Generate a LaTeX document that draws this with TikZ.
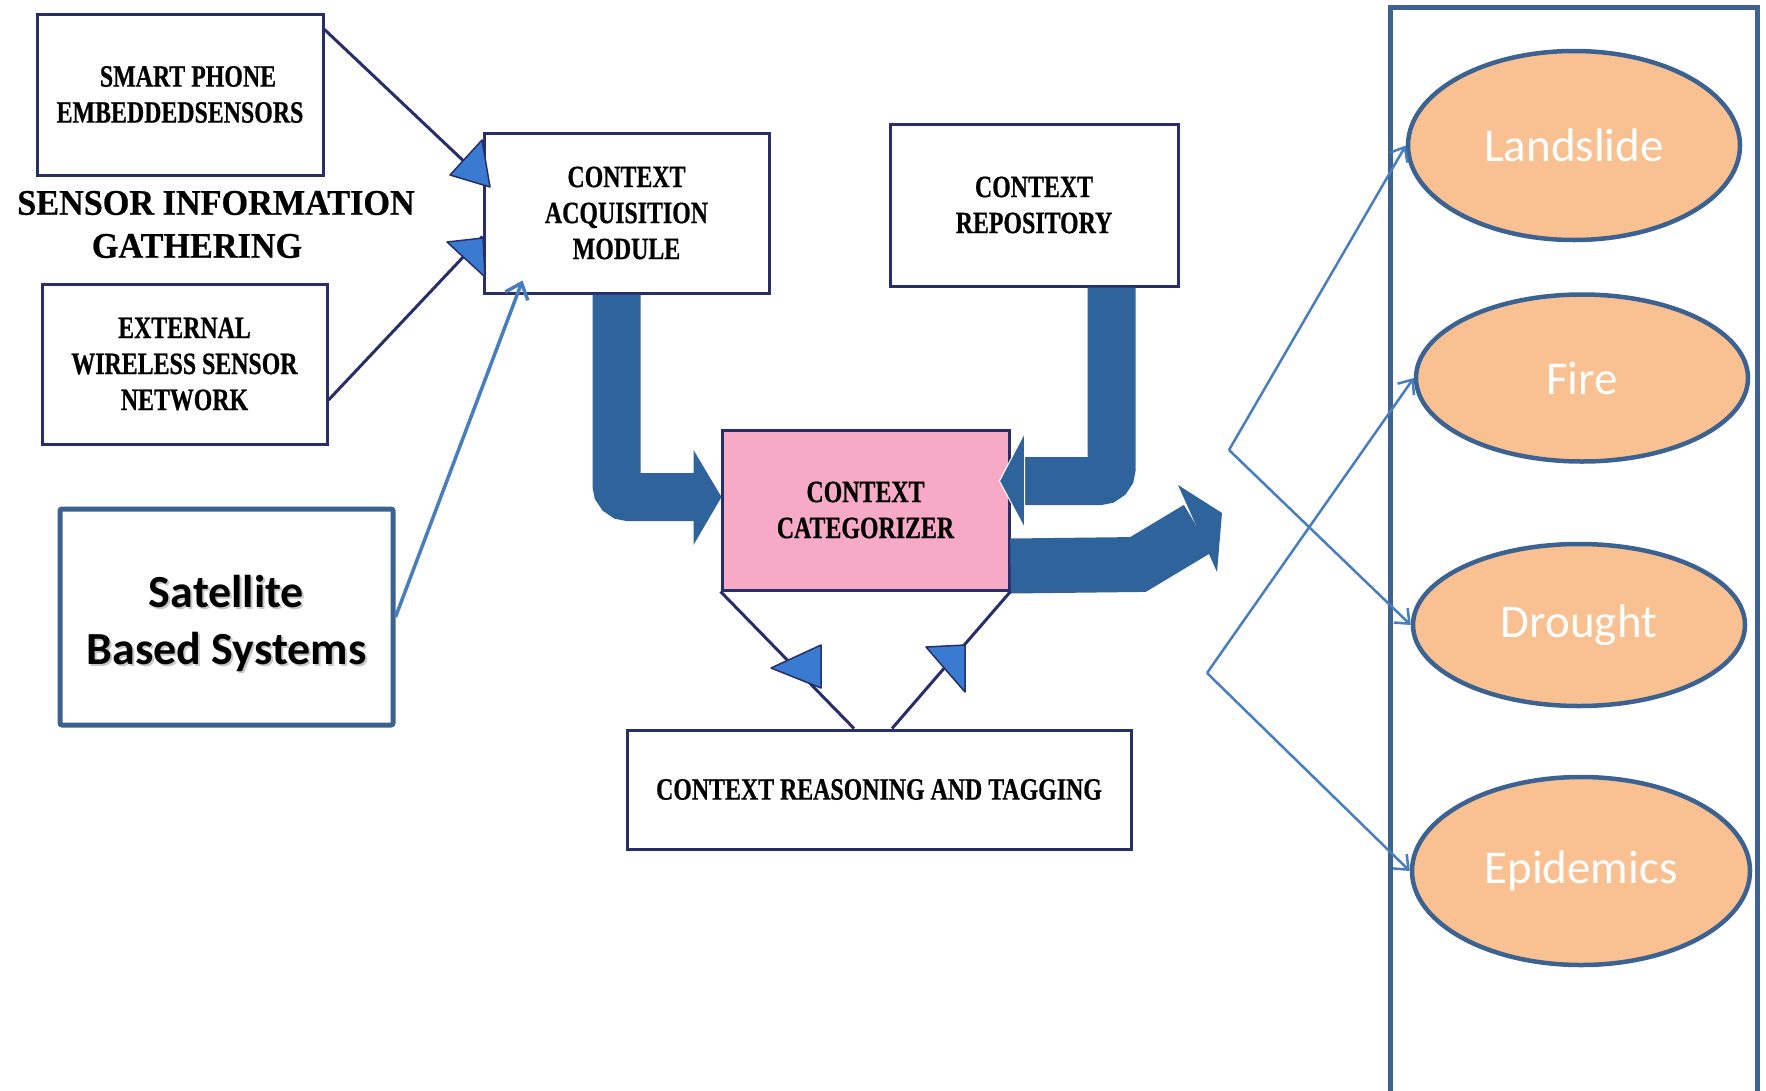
\documentclass[tikz,border=0pt]{standalone}
\usepackage{fontspec}
\usetikzlibrary{arrows.meta,calc,shapes.geometric}
\newfontfamily\tnr[FakeStretch=0.77,FakeBold=0.6]{Liberation Serif}
\newfontfamily\tnrw[FakeStretch=0.95,FakeBold=0.6]{Liberation Serif}
\newfontfamily\calib{Carlito}
\definecolor{navy}{RGB}{40,46,104}
\definecolor{bandc}{RGB}{47,99,155}
\definecolor{tric}{RGB}{58,122,208}
\definecolor{pinkfill}{RGB}{247,170,198}
\definecolor{steel}{RGB}{60,98,146}
\definecolor{thinc}{RGB}{72,126,190}
\definecolor{peach}{RGB}{249,193,145}
\newcommand\shtext[1]{\makebox[0pt][l]{\hspace{2pt}\raisebox{-2pt}{\textcolor{black!22}{#1}}}#1}
\begin{document}
\begin{tikzpicture}[x=1pt,y=-1pt,
  oldbox/.style={draw=navy, line width=3pt, fill=white, inner sep=0pt, align=center,
     font={\tnr\bfseries\fontsize{31}{36}\selectfont}},
  evbox/.style={ellipse, draw=steel, line width=4.5pt, fill=peach, inner sep=0pt,
     text=white, font={\calib\fontsize{47}{56}\selectfont}},
  satbox/.style={draw=steel, line width=5pt, rounded corners=2pt, fill=white, inner sep=0pt,
     align=center, font={\calib\bfseries\fontsize{46}{57}\selectfont}},
  bandline/.style={draw=bandc, line width=48pt, line cap=butt},
  bandhead/.style={fill=bandc},
  navyline/.style={draw=navy, line width=3pt},
  trihead/.style={fill=tric, draw=navy, line width=1.5pt, line join=round},
  thinline/.style={draw=thinc, line width=2.5pt, -{Straight Barb[length=12pt,width=20pt]}}
]
\useasboundingbox (0,0) rectangle (1766,1090);
\fill[white] (0,0) rectangle (1766,1090);

% right container
\draw[steel, line width=5pt] (1390,1100) -- (1390,7) -- (1757,7) -- (1757,1100);

% left nodes
\node[oldbox, minimum width=286pt, minimum height=161pt] (sp) at (180,94.5) {\hspace*{16pt}SMART PHONE\\EMBEDDEDSENSORS};
\node[align=center, inner sep=0pt, font={\tnrw\bfseries\fontsize{36}{43}\selectfont}] (sig) at (216,224.5)
  {SENSOR INFORMATION\\\hspace*{-38pt}GATHERING};
\node[oldbox, minimum width=285pt, minimum height=160pt] (ext) at (184.5,364) {EXTERNAL\\WIRELESS SENSOR\\NETWORK};
\node[satbox, minimum width=333pt, minimum height=216pt] (sat) at (226.5,617) {\rule{0pt}{47pt}\shtext{Satellite}\\\shtext{Based Systems}};

% centre nodes
\node[oldbox, minimum width=285pt, minimum height=160pt] (cam) at (626.5,213) {CONTEXT\\ACQUISITION\\MODULE};
\node[oldbox, minimum width=288pt, minimum height=162pt] (repo) at (1034,205) {CONTEXT\\REPOSITORY};
\node[oldbox, fill=pinkfill, minimum width=287pt, minimum height=160pt] (cat) at (865.5,510) {CONTEXT\\CATEGORIZER};
\node[oldbox, minimum width=504pt, minimum height=119pt] (reas) at (879,789.5) {CONTEXT REASONING AND TAGGING};

% ellipses
\node[evbox, minimum width=332pt, minimum height=189pt] (land) at (1574,145.5) {Landslide};
\node[evbox, minimum width=332pt, minimum height=167pt] (fire) at (1582,378) {Fire};
\node[evbox, minimum width=332pt, minimum height=162pt] (drought) at (1579,625) {Drought};
\node[evbox, minimum width=338pt, minimum height=188pt] (epi) at (1581,871) {Epidemics};

% thick band arrows
\draw[bandline, rounded corners=12pt] ($(cam.south)+(-10,0)$) |- ($(cat.west)+(-26,-13)$);
\fill[bandhead] ($(cat.west)+(-27,-60)$) -- ($(cat.west)+(1,-13)$) -- ($(cat.west)+(-27,35)$) -- cycle;

\draw[bandline, rounded corners=12pt] ($(repo.south)+(77.5,0)$) |- ($(cat.east)+(13,-29)$);
\fill[bandhead, draw=white, line width=1pt] ($(cat.east)+(14,-77)$) -- ($(cat.east)+(-11,-29)$) -- ($(cat.east)+(14,18)$) -- cycle;

\coordinate (obase) at (1198,528.5);
\draw[bandline, line width=55pt] ($(cat.south east)+(0,-25.5)$) -- (1138,564.5) -- (obase);
\fill[bandhead] (1178,485) -- (1222,513) -- (1217,572) -- cycle;

% sensor arrows
\draw[navyline] ($(sp.north east)+(0,17)$) -- ($(cam.north west)+(7,54)$);
\filldraw[trihead] (450,175) -- (482,140) -- (490,187) -- cycle;
\draw[navyline] ($(ext.east)+(0,36)$) -- ($(cam.north west)+(0,105)$);
\filldraw[trihead] (447,242) -- (483,238) -- (485,277) -- cycle;

\draw[thinline, line width=3.5pt, -{Straight Barb[length=14pt,width=24pt]}] (sat.east) -- ($(cam.south west)+(40,-14)$);

% categorizer <-> reasoning
\draw[navyline] (cat.south west) -- ($(reas.north)+(-25,0)$);
\filldraw[trihead] (771,668) -- (821,645) -- (821,688) -- cycle;
\draw[navyline] ($(reas.north)+(13,0)$) -- (cat.south east);
\filldraw[trihead] (926,647) -- (965,645) -- (965,692) -- cycle;

% outputs to events
\coordinate (va) at (1229,450);
\coordinate (vb) at (1207,673);
\draw[thinline] (va) -- (land.west);
\draw[thinline] (va) -- (drought.west);
\draw[thinline] (vb) -- (fire.west);
\draw[thinline] (vb) -- (epi.west);
\end{tikzpicture}
\end{document}
